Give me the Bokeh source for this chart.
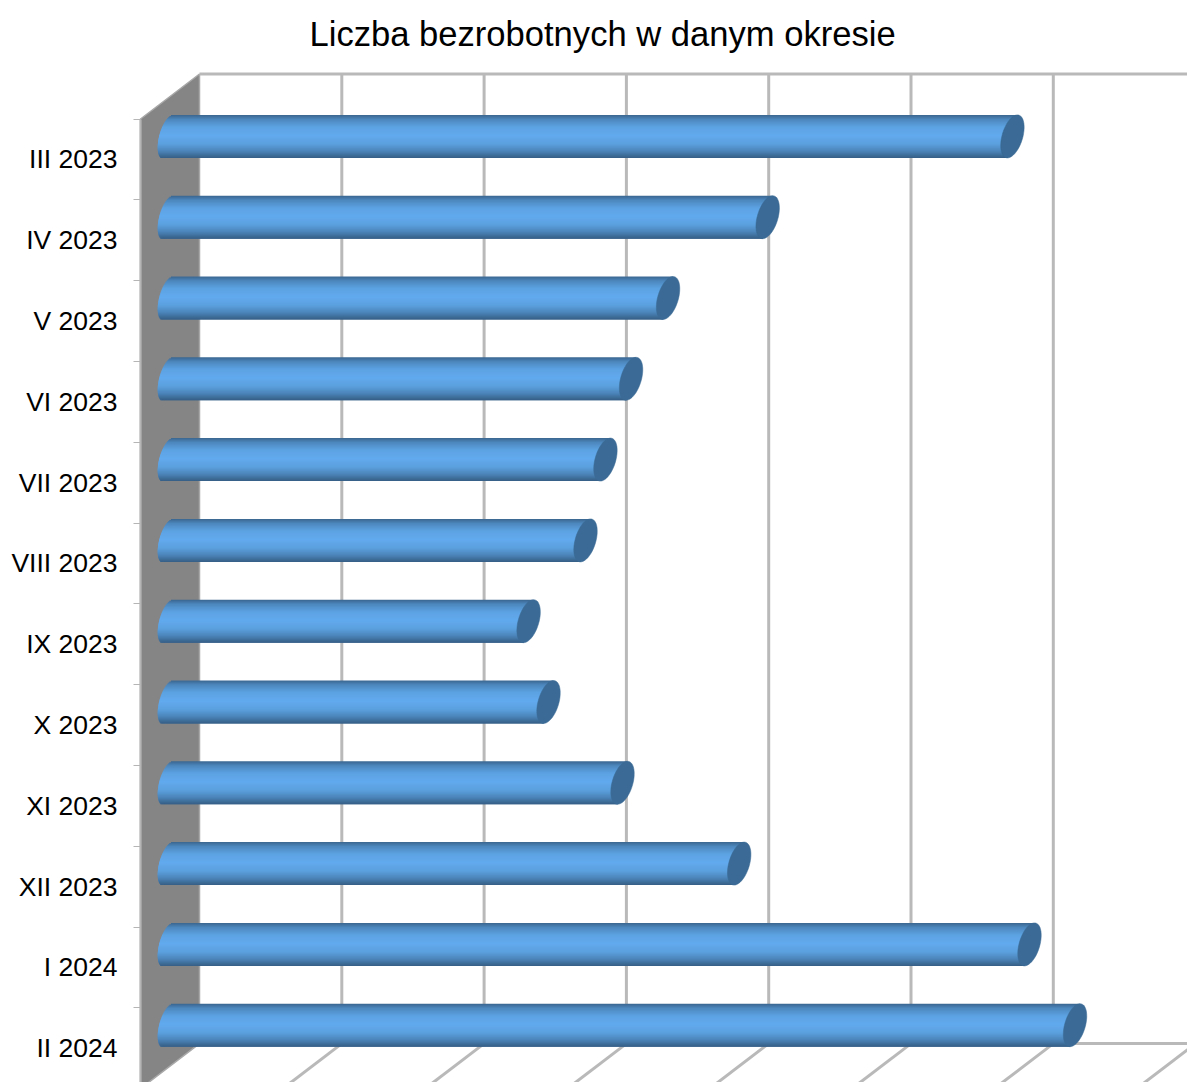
import numpy as np
from bokeh.embed import file_html
from bokeh.resources import INLINE
from bokeh.plotting import figure
from bokeh.models import ColumnDataSource, FixedTicker, LinearAxis, Range1d, Title

# ---- data ----
categories = ["III 2023", "IV 2023", "V 2023", "VI 2023", "VII 2023", "VIII 2023",
              "IX 2023", "X 2023", "XI 2023", "XII 2023", "I 2024", "II 2024"]
values = [592, 420, 350, 324, 306, 292, 252, 266, 318, 400, 604, 636]
grid_ticks = [0, 100, 200, 300, 400, 500, 600, 700]
title_text = "Liczba bezrobotnych w danym okresie"

# ---- layout ----
W, H, FRAME_TOP = 1187, 1082, 58
PX_PER_VALUE = 1.423          # horizontal pixels per value unit
PX_PER_BAND = 80.8            # vertical pixels per category
FRONT_X = 140                 # pixel of value 0 on the front plane
FIRST_BAND_Y = 158.9          # pixel of the first category's centre on the front plane
DEPTH_X = 59 / PX_PER_VALUE   # 3-D depth shift in value units
DEPTH_Y = 45 / PX_PER_BAND    # 3-D depth shift in band units

x_range = Range1d(-FRONT_X / PX_PER_VALUE, (W - FRONT_X) / PX_PER_VALUE)
y_range = Range1d((H - FIRST_BAND_Y) / PX_PER_BAND, (FRAME_TOP - FIRST_BAND_Y) / PX_PER_BAND)

p = figure(width=W, height=H, output_backend="svg", toolbar_location=None,
           x_range=x_range, y_range=y_range, x_axis_location=None, y_axis_location=None,
           min_border_left=0, min_border_right=0, min_border_bottom=0, min_border_top=FRAME_TOP,
           outline_line_color=None, background_fill_color="white", border_fill_color="white")
p.grid.visible = False

title = Title(text=title_text, align="left", offset=309, text_font="Liberation Sans",
              text_font_size="34.6px", text_font_style="normal", text_color="#000000", standoff=12)
p.add_layout(title, "above")

# ---- walls and grid ----
band_top, band_bottom = -0.5, len(categories) - 0.5
GRID = "#b9b9b9"
p.patch([0, DEPTH_X, DEPTH_X, 0],
        [band_top, band_top - DEPTH_Y, band_bottom - DEPTH_Y, band_bottom],
        fill_color="#858585", line_color="#a8a8a8", line_width=1.5)
p.segment(x0=[DEPTH_X, DEPTH_X], x1=[grid_ticks[-1] + DEPTH_X] * 2,
          y0=[band_top - DEPTH_Y, band_bottom - DEPTH_Y],
          y1=[band_top - DEPTH_Y, band_bottom - DEPTH_Y], line_color=GRID, line_width=3)
p.segment(x0=[t + DEPTH_X for t in grid_ticks[1:]], x1=[t + DEPTH_X for t in grid_ticks[1:]],
          y0=[band_top - DEPTH_Y] * 7, y1=[band_bottom - DEPTH_Y] * 7, line_color=GRID, line_width=3)
p.segment(x0=[t + DEPTH_X for t in grid_ticks[1:]], x1=grid_ticks[1:],
          y0=[band_bottom - DEPTH_Y] * 7, y1=[band_bottom] * 7, line_color=GRID, line_width=3)

# ---- cylinders drawn as thin shaded strips, painted top to bottom with downward overlap ----
BAR_H_PX = 43.0
N_STRIPS = 43
CAP_A = 10.6 / PX_PER_VALUE   # half-width of end ellipse
CAP_S = 5.0 / PX_PER_VALUE    # shear of end ellipse
LEFT_A = 9.0 / PX_PER_VALUE   # half-width of the rounded start
LEFT_C = -2.0 / PX_PER_VALUE  # shift of the rounded start
MID_X = DEPTH_X / 2
MID_Y = DEPTH_Y / 2 + 0.5 / PX_PER_BAND

stops_t = [-1.0, -0.8, -0.45, -0.05, 0.35, 0.7, 1.0]
stops_rgb = np.array([[0x3a, 0x66, 0x90], [0x4c, 0x86, 0xbc], [0x5c, 0xa2, 0xe2], [0x62, 0xaa, 0xee],
                      [0x5b, 0xa0, 0xde], [0x4a, 0x82, 0xb6], [0x35, 0x5e, 0x84]])
def shade(t):
    rgb = [np.interp(t, stops_t, stops_rgb[:, c]) for c in range(3)]
    return "#%02x%02x%02x" % tuple(int(round(c)) for c in rgb)

half_h = BAR_H_PX / 2 / PX_PER_BAND
step = 2.0 * half_h / N_STRIPS
left, right, top, bottom, col = [], [], [], [], []
for i, v in enumerate(values):
    centre = i - MID_Y
    for s in range(N_STRIPS):
        t = -1 + (2 * s + 1) / N_STRIPS
        shear = -CAP_S * t
        left.append(MID_X + LEFT_C + shear - LEFT_A * np.sqrt(1 - t * t))
        right.append(MID_X + v + shear)
        top.append(centre + t * half_h - step / 2)
        bottom.append(min(centre + t * half_h + step * 1.5, centre + half_h))
        col.append(shade(t))
p.quad(left="left", right="right", top="top", bottom="bottom", color="c", line_color=None,
       source=ColumnDataSource(dict(left=left, right=right, top=top, bottom=bottom, c=col)))

theta = np.linspace(0, 2 * np.pi, 49)
cap_xs, cap_ys = [], []
for i, v in enumerate(values):
    cap_xs.append(list(MID_X + v + CAP_A * np.cos(theta) - CAP_S * np.sin(theta)))
    cap_ys.append(list(i - MID_Y + half_h * np.sin(theta)))
p.patches(cap_xs, cap_ys, fill_color="#3a6a95", line_color="#3a6a95", line_width=0.5)

# ---- category axis on the front plane ----
axis = LinearAxis(fixed_location=0,
                  ticker=FixedTicker(ticks=list(range(len(categories))),
                                     minor_ticks=[i - 0.5 for i in range(len(categories) + 1)]),
                  major_label_overrides={i: c for i, c in enumerate(categories)},
                  bounds=(band_top, band_bottom),
                  axis_line_color="#b5b5b5", axis_line_width=2,
                  major_tick_line_color=None, major_tick_in=0, major_tick_out=0,
                  minor_tick_line_color="#b5b5b5", minor_tick_line_width=1,
                  minor_tick_in=0, minor_tick_out=7,
                  major_label_standoff=16, major_label_text_font="Liberation Sans",
                  major_label_text_font_size="26.5px", major_label_text_color="#000000")
p.add_layout(axis, "left")

open("out.html", "w").write(file_html(p, INLINE))
